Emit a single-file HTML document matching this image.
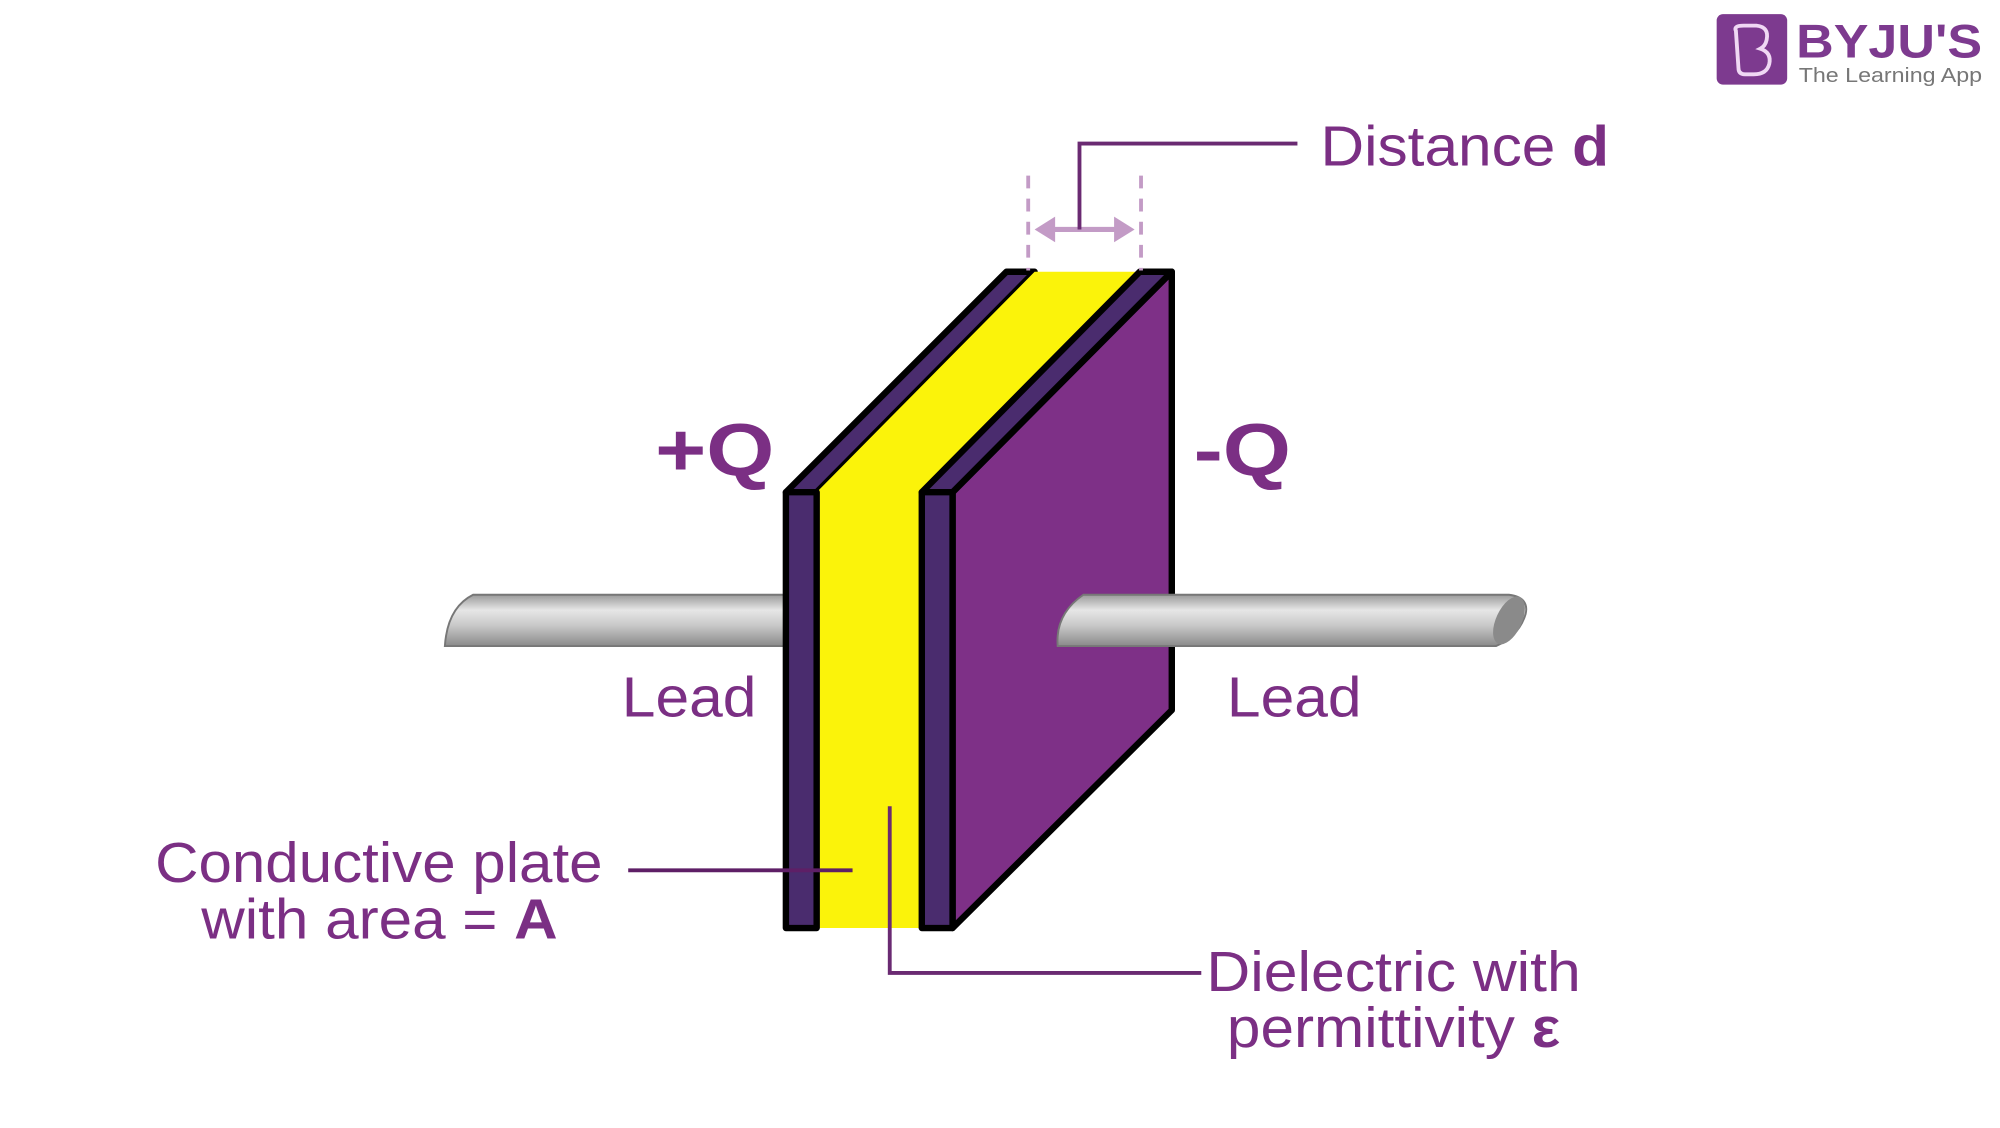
<!DOCTYPE html>
<html><head><meta charset="utf-8"><style>
html,body{margin:0;padding:0;background:#fff;width:2000px;height:1128px;overflow:hidden}
svg{display:block}
text{font-family:"Liberation Sans",Arial,sans-serif;fill:#7b2f84}
</style></head><body>
<svg width="2000" height="1128" viewBox="0 0 1560 880" preserveAspectRatio="none">
<defs>
<linearGradient id="g" x1="0" y1="0" x2="0" y2="1">
<stop offset="0" stop-color="#9a9a9a"/><stop offset="0.3" stop-color="#e6e6e6"/><stop offset="0.6" stop-color="#c8c8c8"/><stop offset="1" stop-color="#8a8a8a"/>
</linearGradient>
</defs>
<g transform="translate(-3,-1)">
<path d="M616,465 L372,465 Q352,475 350,505 L616,505 Z" fill="url(#g)" stroke="#777" stroke-width="1.5"/>
<polygon points="616,385 640,385 810,213 788,213" fill="#4a2c6e" stroke="#000" stroke-width="5" stroke-linejoin="round"/>
<polygon points="640,385 810,213 892,213 722,385 722,725 640,725" fill="#fbf30a"/>
<rect x="616" y="385" width="24" height="340" fill="#4a2c6e" stroke="#000" stroke-width="5" stroke-linejoin="round"/>
<polygon points="746,385 917,213 917,555 746,725" fill="#7e3087" stroke="#000" stroke-width="5" stroke-linejoin="round"/>
<polygon points="722,385 746,385 917,213 892,213" fill="#4a2c6e" stroke="#000" stroke-width="5" stroke-linejoin="round"/>
<rect x="722" y="385" width="24" height="340" fill="#4a2c6e" stroke="#000" stroke-width="5" stroke-linejoin="round"/>
<path d="M848,465 L1180,465 Q1196,467 1193,480 Q1188,497 1170,505 L828,505 Q826,480 848,465 Z" fill="url(#g)" stroke="#777" stroke-width="1.5"/>
<ellipse cx="1180" cy="485" rx="10" ry="20" fill="#8a8a8a" transform="rotate(25 1180 485)"/>
<line x1="805" y1="138" x2="805" y2="212" stroke="#c39bc6" stroke-width="3" stroke-dasharray="10,8"/>
<line x1="893" y1="138" x2="893" y2="212" stroke="#c39bc6" stroke-width="3" stroke-dasharray="10,8"/>
<line x1="822" y1="180" x2="876" y2="180" stroke="#c39bc6" stroke-width="4"/>
<polygon points="810,180 826,170 826,190" fill="#c39bc6"/>
<polygon points="888,180 872,170 872,190" fill="#c39bc6"/>
<polyline points="845,180 845,113 1015,113" fill="none" stroke="#6a2a72" stroke-width="3"/>
<line x1="493" y1="680" x2="668" y2="680" stroke="#5e1f66" stroke-width="3"/>
<polyline points="697,630 697,760 940,760" fill="none" stroke="#6a2a72" stroke-width="3"/>
<text x="1033" y="130" font-size="44" textLength="225" lengthAdjust="spacingAndGlyphs">Distance <tspan font-weight="bold">d</tspan></text>
<text x="514" y="372" font-size="58" font-weight="bold" textLength="93" lengthAdjust="spacingAndGlyphs">+Q</text>
<text x="934" y="372" font-size="58" font-weight="bold" textLength="76" lengthAdjust="spacingAndGlyphs">-Q</text>
<text x="488" y="560" font-size="44" textLength="105" lengthAdjust="spacingAndGlyphs">Lead</text>
<text x="960" y="560" font-size="44" textLength="105" lengthAdjust="spacingAndGlyphs">Lead</text>
<text x="124" y="689" font-size="44" textLength="349" lengthAdjust="spacingAndGlyphs">Conductive plate</text>
<text x="160" y="733" font-size="44" textLength="278" lengthAdjust="spacingAndGlyphs">with area = <tspan font-weight="bold">A</tspan></text>
<text x="944" y="774" font-size="44" textLength="292" lengthAdjust="spacingAndGlyphs">Dielectric with</text>
<text x="960" y="818" font-size="44" textLength="260" lengthAdjust="spacingAndGlyphs">permittivity <tspan font-weight="bold">ε</tspan></text>
</g>
<rect x="1339" y="11" width="55" height="55" rx="5" fill="#7d3a8f"/>
<path d="M1354,24 Q1352,20 1360,20 L1370,20 Q1380,21 1378,31 Q1377,36 1373,38 Q1382,41 1380,50 Q1378,58 1368,58 L1361,58 Q1356,58 1356,53 Z" fill="none" stroke="#f0d8f4" stroke-width="3"/>
<text x="1401" y="45" font-size="37" font-weight="bold" style="fill:#7d3a8f" textLength="145" lengthAdjust="spacingAndGlyphs">BYJU'S</text>
<text x="1403" y="64" font-size="16" style="fill:#777" textLength="143" lengthAdjust="spacingAndGlyphs">The Learning App</text>
</svg>
</body></html>
